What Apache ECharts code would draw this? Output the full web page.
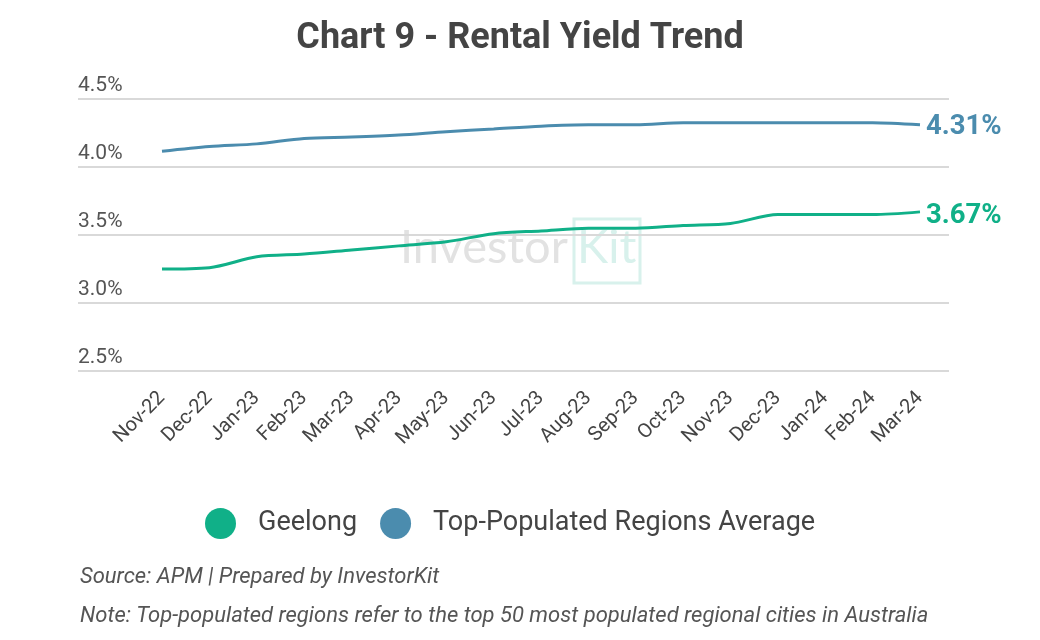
<!DOCTYPE html>
<html>
<head>
<meta charset="utf-8">
<script src="https://cdn.jsdelivr.net/npm/echarts@6/dist/echarts.min.js"></script>
<style>html,body{margin:0;padding:0;background:#fff;}#c{width:1040px;height:640px;}</style>
</head>
<body>
<div id="c"></div>
<script>
const categories = ['Nov-22','Dec-22','Jan-23','Feb-23','Mar-23','Apr-23','May-23','Jun-23','Jul-23','Aug-23','Sep-23','Oct-23','Nov-23','Dec-23','Jan-24','Feb-24','Mar-24'];
const geelong = [3.25, 3.26, 3.34, 3.36, 3.39, 3.42, 3.45, 3.51, 3.53, 3.55, 3.55, 3.57, 3.585, 3.65, 3.65, 3.65, 3.67];
const topRegions = [4.115, 4.15, 4.17, 4.21, 4.22, 4.235, 4.26, 4.28, 4.30, 4.31, 4.31, 4.325, 4.325, 4.325, 4.325, 4.325, 4.31];
const yTicks = { min: 2.5, max: 4.5, interval: 0.5 };
const seriesNames = ['Geelong', 'Top-Populated Regions Average'];
const colors = ['#10b088', '#4b8cae'];

const chart = echarts.init(document.getElementById('c'));
const FONT = 'Roboto';
chart.setOption({
  animation: false,
  backgroundColor: '#fff',
  textStyle: { fontFamily: FONT },
  title: {
    text: 'Chart 9 - Rental Yield Trend',
    left: 'center', top: 16,
    textStyle: { fontFamily: FONT, fontSize: 36, fontWeight: 'bold', color: '#444' }
  },
  grid: [
    { left: 78, right: 91, top: 99, bottom: 269 },
    { left: 162, right: 120, top: 99, bottom: 269 }
  ],
  xAxis: [
    { gridIndex: 0, type: 'category', data: categories, show: false },
    { gridIndex: 1, type: 'category', data: categories, boundaryGap: false,
      axisLine: { show: false }, axisTick: { show: false },
      axisLabel: { rotate: 45, interval: 0, margin: 24, fontSize: 20, color: '#444', fontFamily: FONT } }
  ],
  yAxis: [
    { gridIndex: 0, type: 'value', min: yTicks.min, max: yTicks.max, interval: yTicks.interval,
      axisLine: { show: false }, axisTick: { show: false },
      splitLine: { lineStyle: { color: '#d9d9d9', width: 2 } },
      axisLabel: { inside: true, margin: 0, verticalAlign: 'bottom', padding: [0, 0, 3, 0],
        fontSize: 21, color: '#555', fontFamily: FONT,
        formatter: v => v.toFixed(1) + '%' } },
    { gridIndex: 1, type: 'value', min: yTicks.min, max: yTicks.max, interval: yTicks.interval, show: false,
      splitLine: { show: false } }
  ],
  legend: {
    left: 205, top: 508, padding: 0,
    icon: 'circle', itemWidth: 31, itemHeight: 31, itemGap: 23,
    textStyle: { fontSize: 27, color: '#444', fontFamily: FONT, padding: [5, 0, 0, 17] },
    data: seriesNames
  },
  series: [
    { name: seriesNames[0], type: 'line', xAxisIndex: 1, yAxisIndex: 1, data: geelong,
      smooth: 0.3, symbol: 'none', lineStyle: { width: 3, color: colors[0] }, itemStyle: { color: colors[0] },
      endLabel: { show: true, distance: 6, offset: [0, 4], fontSize: 27.5, fontWeight: 'bold', color: colors[0], fontFamily: FONT,
        formatter: p => p.value.toFixed(2) + '%' } },
    { name: seriesNames[1], type: 'line', xAxisIndex: 1, yAxisIndex: 1, data: topRegions,
      smooth: 0.3, symbol: 'none', lineStyle: { width: 3, color: colors[1] }, itemStyle: { color: colors[1] },
      endLabel: { show: true, distance: 6, offset: [0, 2], fontSize: 27.5, fontWeight: 'bold', color: colors[1], fontFamily: FONT,
        formatter: p => p.value.toFixed(2) + '%' } }
  ],
  graphic: [
    { type: 'text', z: -10, silent: true, left: 400, top: 224,
      style: { text: 'Investor', fontSize: 47, fontFamily: 'Lato', fill: '#e2e2e2' } },
    { type: 'rect', z: -10, silent: true, shape: { x: 574, y: 219, width: 66, height: 64 },
      style: { fill: 'none', stroke: '#d8f1ec', lineWidth: 3 } },
    { type: 'text', z: -10, silent: true, left: 577, top: 224,
      style: { text: 'Kit', fontSize: 47, fontFamily: 'Lato', fill: '#d8f1ec' } },
    { type: 'text', left: 80, top: 566,
      style: { text: 'Source: APM | Prepared by InvestorKit', fontSize: 22, fontStyle: 'italic', fontFamily: FONT, fill: '#555' } },
    { type: 'text', left: 80, top: 605,
      style: { text: 'Note: Top-populated regions refer to the top 50 most populated regional cities in Australia', fontSize: 22, fontStyle: 'italic', fontFamily: FONT, fill: '#555' } }
  ]
});
</script>
</body>
</html>
